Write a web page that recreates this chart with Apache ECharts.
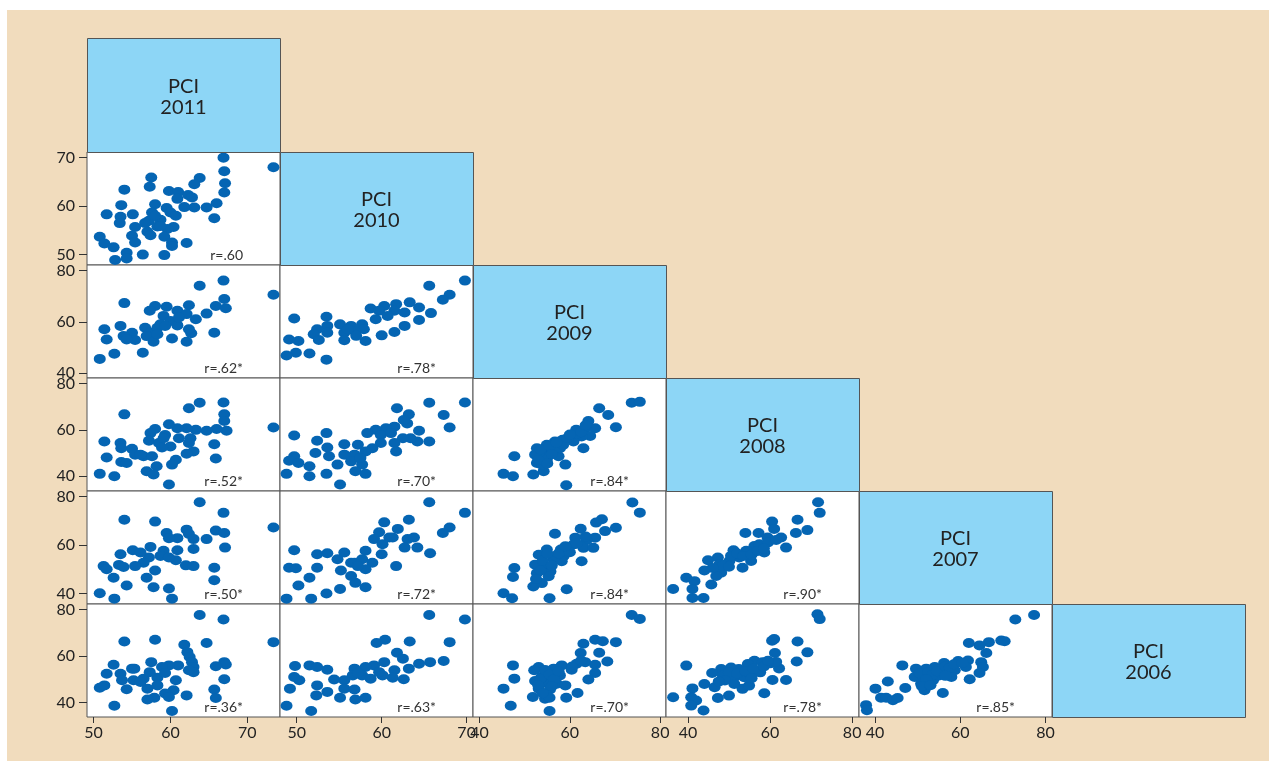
<!DOCTYPE html>
<html>
<head>
<meta charset="utf-8">
<script src="https://cdn.jsdelivr.net/npm/echarts@6/dist/echarts.min.js"></script>
<style>
html,body{margin:0;padding:0;background:#ffffff;}
#bg{position:absolute;left:7px;top:10px;width:1262px;height:751px;background:#f1dcbd;}
#chart{position:absolute;left:0;top:0;width:1276px;height:767px;}
</style>
</head>
<body>
<div id="bg"></div>
<div id="chart"></div>
<script>
// ---- variables (diagonal labels) ----
const variables = ['PCI\n2011', 'PCI\n2010', 'PCI\n2009', 'PCI\n2008', 'PCI\n2007', 'PCI\n2006'];

// ---- tick labels ----
const xTicksByCol = [[50, 60, 70], [50, 60, 70], [40, 60, 80], [40, 60, 80], [40, 60, 80]];
const yTicksByRow = [null, [50, 60, 70], [40, 60, 80], [40, 60, 80], [40, 60, 80], [40, 60, 80]];

// ---- correlation labels (row, col) ----
const rLabels = {
  '1-0': 'r=.60',
  '2-0': 'r=.62*', '2-1': 'r=.78*',
  '3-0': 'r=.52*', '3-1': 'r=.70*', '3-2': 'r=.84*',
  '4-0': 'r=.50*', '4-1': 'r=.72*', '4-2': 'r=.84*', '4-3': 'r=.90*',
  '5-0': 'r=.36*', '5-1': 'r=.63*', '5-2': 'r=.70*', '5-3': 'r=.78*', '5-4': 'r=.85*'
};

// ---- scatter data: [x, y] pairs, cell "rowcol" ----
const cell10 = [[66.9,70.0],[73.4,68.0],[67.0,67.2],[63.8,65.8],[57.5,65.9],[57.3,64.0],[54.0,63.4],[63.1,64.5],[67.1,64.7],[67.0,62.8],[59.8,63.1],[61.0,62.9],[62.3,62.3],[60.9,61.5],[62.8,61.8],[66.0,60.6],[64.7,59.7],[63.1,59.7],[61.8,59.8],[58.0,60.4],[53.6,60.2],[51.7,58.3],[55.1,58.3],[53.5,57.8],[53.4,56.5],[59.5,59.6],[60.0,58.7],[60.7,58.0],[57.6,58.7],[57.2,57.0],[58.7,57.2],[58.0,58.0],[65.7,57.5],[55.4,55.7],[60.4,55.7],[59.6,55.3],[58.3,55.8],[57.0,54.7],[57.4,54.0],[55.0,53.9],[50.8,53.7],[59.2,53.7],[55.4,52.5],[51.4,52.3],[52.6,51.5],[60.2,52.5],[60.2,51.8],[62.1,52.4],[54.3,50.4],[54.3,49.2],[52.8,48.9],[56.4,50.0],[59.2,49.9],[58.7,55.9],[56.7,56.5]];
const cell20 = [[66.9,76.1],[63.8,74.1],[73.4,70.6],[54.0,67.3],[67.0,68.9],[65.9,66.2],[67.2,65.3],[62.4,66.5],[59.5,65.9],[58.0,66.2],[57.3,64.3],[60.9,64.3],[62.1,63.0],[64.7,63.2],[63.3,61.0],[59.1,62.3],[60.0,60.3],[53.5,58.4],[51.4,57.1],[51.7,53.1],[55.0,55.7],[53.9,54.4],[55.4,52.9],[56.7,57.7],[57.4,55.7],[58.3,57.7],[58.7,59.0],[59.3,58.4],[60.9,58.6],[56.9,54.4],[57.8,52.2],[60.2,53.5],[62.1,52.2],[62.7,55.5],[62.4,57.1],[65.7,55.7],[56.4,47.9],[52.7,47.5],[50.8,45.5],[54.3,53.1],[58.3,55.1],[61.1,61.7]];
const cell21 = [[69.8,76.1],[65.6,74.1],[68.0,70.6],[67.2,68.6],[63.3,67.6],[64.4,65.6],[61.7,66.9],[60.3,66.2],[58.7,65.2],[59.7,64.3],[61.5,64.3],[62.7,63.6],[65.8,63.4],[64.4,60.7],[62.7,58.4],[61.5,56.0],[60.0,54.7],[59.3,61.0],[60.7,62.3],[49.7,61.3],[53.5,62.0],[53.6,58.4],[55.1,59.0],[56.4,58.4],[57.7,59.0],[57.9,57.1],[56.8,56.4],[55.6,55.7],[53.6,55.7],[52.4,57.1],[52.0,55.1],[52.6,52.9],[55.6,52.8],[58.1,52.5],[57.0,54.5],[49.1,53.1],[50.2,52.5],[49.9,47.9],[48.8,46.8],[51.5,47.6],[53.5,45.2],[56.0,57.1]];
const cell30 = [[66.9,71.8],[63.8,71.7],[62.4,69.3],[54.0,66.7],[67.0,66.7],[67.0,63.8],[73.4,61.0],[67.3,59.6],[66.0,60.4],[64.7,59.6],[63.3,60.0],[62.1,60.7],[60.9,60.7],[59.8,62.4],[58.0,60.4],[57.4,58.6],[59.3,57.8],[61.1,56.4],[62.6,56.4],[62.4,54.3],[63.0,50.7],[62.1,49.7],[65.7,53.8],[65.9,47.6],[51.4,55.0],[53.5,54.3],[53.6,52.1],[55.0,51.8],[57.2,55.3],[58.5,54.3],[60.0,52.8],[58.9,52.4],[55.4,49.3],[56.5,48.6],[57.6,48.6],[51.7,48.1],[53.6,46.1],[54.3,45.7],[60.7,47.1],[60.2,45.0],[58.2,44.3],[56.9,42.1],[57.8,40.7],[50.8,41.0],[52.7,40.0],[59.8,36.4],[56.1,49.3],[59.1,56.4]];
const cell31 = [[69.8,71.8],[65.6,71.7],[61.8,69.3],[67.3,66.4],[63.2,66.7],[68.0,61.0],[63.0,62.8],[62.6,64.3],[64.4,59.6],[65.6,55.0],[64.2,55.0],[63.4,56.4],[62.5,56.4],[61.5,61.4],[60.5,60.7],[59.3,60.0],[58.3,58.6],[59.9,57.8],[61.1,58.6],[59.9,54.3],[61.5,54.3],[61.7,50.7],[49.7,57.6],[53.5,58.6],[52.4,55.3],[53.6,52.4],[55.6,53.8],[57.2,53.6],[58.9,52.1],[58.1,50.7],[56.8,49.3],[55.6,49.3],[53.8,48.6],[52.2,50.0],[49.7,48.6],[49.1,46.7],[50.2,45.7],[51.5,44.3],[54.8,45.0],[56.4,46.4],[57.7,45.0],[56.9,42.1],[58.1,41.0],[53.5,41.0],[51.5,40.0],[48.8,41.0],[55.1,36.4],[57.5,47.9]];
const cell32 = [[73.7,71.7],[75.5,72.1],[66.5,69.3],[68.5,66.4],[70.2,61.1],[64.1,63.8],[65.6,60.7],[63.4,60.7],[61.4,60.0],[64.5,57.4],[62.6,57.1],[60.4,57.8],[58.4,55.7],[56.7,55.0],[54.9,53.6],[52.7,52.1],[54.5,50.0],[52.3,49.3],[52.7,45.7],[54.9,47.1],[57.5,48.6],[59.0,45.0],[54.2,42.1],[51.9,40.7],[47.7,48.6],[45.3,41.0],[47.4,40.0],[59.2,36.1],[63.0,52.1],[56.0,51.4],[57.8,52.1],[53.8,45.0],[60.8,55.0],[53.5,51.5],[55.5,53.0],[56.0,49.5],[58.5,53.5],[59.5,56.5],[61.5,58.5],[62.5,59.0],[53.0,47.0],[55.0,45.5],[57.0,54.5],[63.5,62.0],[60.0,58.0]];
const cell40 = [[63.8,77.6],[66.9,73.2],[54.0,70.4],[58.0,69.6],[73.4,67.2],[59.5,64.9],[62.1,66.3],[62.4,64.5],[65.9,65.9],[67.0,64.9],[64.7,62.4],[60.9,62.8],[59.8,62.8],[63.0,62.4],[63.0,58.3],[67.1,58.9],[57.4,59.2],[55.1,57.8],[53.5,56.2],[59.1,57.6],[60.9,57.8],[60.7,53.7],[58.7,55.5],[57.2,54.8],[56.5,52.7],[55.4,51.3],[53.3,51.8],[53.9,50.9],[51.3,51.3],[51.7,50.0],[58.0,49.5],[62.0,51.6],[63.0,51.3],[65.7,50.6],[65.7,45.5],[52.6,46.5],[56.9,46.5],[54.3,43.3],[57.8,42.6],[59.8,42.1],[50.8,40.1],[52.7,37.9],[60.2,37.9],[56.1,56.9],[59.8,54.8]];
const cell41 = [[65.6,77.6],[69.8,73.2],[60.3,69.3],[63.2,70.4],[68.0,67.2],[67.2,64.9],[61.9,66.6],[59.7,65.2],[59.1,62.4],[60.9,63.1],[63.05,62.4],[64.2,58.9],[65.7,56.6],[62.7,58.9],[61.3,63.1],[60.1,60.3],[60.0,56.2],[58.1,57.6],[56.4,52.7],[55.6,56.9],[53.6,56.6],[52.4,56.2],[49.7,57.8],[54.8,54.1],[56.8,52.7],[57.7,54.1],[58.9,52.7],[58.1,50.0],[55.2,49.5],[52.4,50.6],[49.1,50.6],[49.9,50.4],[51.5,46.5],[50.2,43.3],[53.5,40.0],[55.1,41.9],[56.9,44.4],[56.4,47.2],[58.1,42.6],[61.7,51.3],[48.8,37.9],[51.7,37.9],[63.8,63.1],[57.2,51.3]];
const cell42 = [[73.85,77.5],[75.5,73.3],[67.1,70.6],[65.8,69.2],[70.2,67.1],[67.8,65.7],[62.4,66.7],[56.7,64.6],[65.6,63.0],[63.7,61.9],[61.2,63.0],[60.8,60.2],[63.0,58.8],[65.2,58.8],[62.6,53.3],[58.0,58.1],[58.6,55.4],[54.9,58.1],[53.1,56.0],[56.4,54.0],[58.2,53.3],[52.3,51.9],[54.5,51.2],[55.7,49.1],[52.7,48.4],[47.7,50.5],[47.4,46.8],[51.9,42.9],[53.8,44.3],[59.3,41.8],[45.3,40.1],[47.2,38.1],[55.5,38.1],[55.3,47.1],[56.9,55.4],[54.0,53.5],[56.0,51.5],[53.5,49.5],[57.5,56.5],[60.0,57.0],[61.5,60.5],[52.5,46.0],[55.0,56.5],[63.5,63.5],[59.0,59.5]];
const cell43 = [[71.7,77.6],[72.1,73.2],[66.7,70.4],[60.5,69.6],[69.1,66.1],[66.3,64.9],[61.0,66.6],[57.2,64.9],[54.0,64.9],[62.7,63.1],[59.4,63.1],[63.9,58.9],[58.6,56.9],[56.2,59.6],[54.2,57.6],[51.1,57.8],[52.5,54.8],[50.1,53.4],[47.3,54.8],[44.9,53.7],[47.7,52.0],[44.0,49.5],[48.1,48.6],[45.7,43.7],[39.6,46.5],[36.4,41.9],[41.6,45.1],[41.1,41.9],[41.1,38.2],[43.8,38.2],[53.3,50.6],[55.4,53.4],[49.3,52.0],[57.4,60.3],[46.9,47.2],[50.5,55.5],[52.0,56.5],[53.5,55.5],[55.5,56.0],[57.0,57.5],[48.5,51.5],[50.0,51.0],[46.0,50.5],[59.5,61.0],[61.5,62.0],[58.5,58.5]];
const cell50 = [[63.8,77.7],[66.9,75.7],[54.0,66.3],[58.0,67.0],[64.7,65.6],[73.4,66.0],[61.8,64.9],[62.2,61.7],[62.5,59.6],[62.8,57.4],[63.0,55.3],[63.0,53.1],[62.4,53.9],[67.0,57.4],[67.2,56.4],[65.9,55.6],[67.0,50.0],[65.7,45.6],[65.9,42.0],[61.0,56.0],[59.8,56.0],[58.9,55.3],[57.5,57.4],[55.0,54.6],[55.3,54.6],[52.6,56.3],[51.7,52.4],[53.5,52.4],[53.7,49.6],[55.2,49.6],[56.5,50.3],[58.3,50.7],[57.3,53.1],[59.3,52.7],[60.7,49.6],[60.4,45.3],[59.3,43.9],[59.8,42.4],[57.9,42.1],[57.0,41.3],[62.1,43.1],[52.7,38.6],[60.2,36.4],[50.8,46.4],[51.4,47.4],[54.3,45.7],[57.0,46.0],[58.3,47.4],[56.1,48.9]];
const cell51 = [[65.6,77.7],[69.8,75.7],[68.0,66.0],[67.3,57.9],[65.7,57.4],[63.3,66.3],[60.4,67.0],[59.4,65.6],[61.8,61.4],[62.5,58.9],[64.4,56.7],[63.2,54.6],[62.6,50.0],[61.5,53.9],[61.3,50.7],[60.3,57.4],[60.1,51.7],[59.1,56.0],[58.1,55.3],[56.8,54.6],[56.6,51.7],[57.7,51.7],[58.7,50.3],[55.6,49.6],[54.4,49.9],[55.6,46.0],[56.8,45.6],[55.1,42.1],[56.9,41.3],[58.1,42.1],[53.6,44.6],[52.4,47.4],[52.3,43.1],[50.3,49.6],[49.7,51.0],[49.8,55.7],[51.5,56.0],[52.4,55.3],[53.6,54.1],[49.2,46.0],[48.8,38.6],[51.7,36.4],[57.2,52.7],[59.7,53.1]];
const cell52 = [[73.7,77.7],[75.5,76.0],[65.6,67.0],[67.3,66.4],[70.2,66.0],[63.0,65.3],[66.5,61.4],[62.4,61.3],[68.3,57.7],[65.6,56.3],[65.6,52.7],[64.1,49.9],[63.4,57.4],[61.5,56.7],[60.4,54.1],[58.2,56.0],[56.4,54.6],[53.1,55.3],[52.1,53.9],[54.5,52.4],[52.3,49.3],[54.9,48.4],[57.1,48.1],[59.0,47.4],[53.1,46.0],[55.6,45.6],[51.8,42.4],[54.5,41.7],[55.5,42.1],[59.2,42.1],[61.7,44.1],[47.4,56.0],[47.7,50.3],[45.3,46.0],[46.9,38.6],[55.5,36.4],[53.8,51.0],[57.8,51.7],[53.5,50.5],[54.5,54.0],[55.5,52.0],[56.5,50.0],[53.0,47.5],[56.0,47.0],[57.5,53.5],[54.0,44.0],[60.5,55.5],[62.5,58.0]];
const cell53 = [[71.55,78.0],[72.1,75.9],[60.5,66.6],[61.0,67.3],[66.7,66.3],[61.2,61.3],[69.1,61.6],[66.5,57.7],[56.2,58.0],[54.6,56.6],[58.2,57.3],[60.2,56.9],[62.2,54.7],[52.4,54.4],[50.5,55.1],[48.1,54.4],[45.9,52.7],[48.5,51.6],[51.3,50.9],[53.7,50.9],[55.4,52.3],[57.6,53.0],[44.0,48.0],[46.5,46.6],[53.3,45.9],[54.9,47.3],[60.6,49.7],[63.9,49.7],[58.6,44.0],[39.6,55.9],[41.1,46.1],[36.4,42.3],[40.8,42.3],[42.0,40.9],[40.8,38.7],[43.8,36.6],[47.3,42.0],[50.0,43.0],[51.3,48.0],[50.0,53.0],[52.0,52.5],[54.0,53.5],[56.0,54.5],[58.5,55.5],[49.0,49.5],[47.5,49.0],[55.5,50.5],[61.5,57.5],[59.5,58.0]];
const cell54 = [[77.3,77.7],[72.9,75.7],[69.6,66.7],[70.4,66.4],[66.7,66.0],[64.5,64.6],[62.0,65.6],[66.1,61.3],[64.9,57.4],[65.3,55.3],[61.8,58.1],[59.5,57.9],[56.2,57.0],[58.7,53.9],[62.2,50.0],[64.5,52.7],[55.9,54.6],[54.0,55.3],[52.0,54.6],[49.6,54.6],[46.4,56.0],[49.3,51.0],[51.6,51.0],[53.6,49.6],[50.8,48.1],[51.6,45.3],[43.0,49.1],[47.1,46.3],[40.1,46.0],[41.4,42.1],[42.6,42.1],[44.2,41.0],[45.3,42.0],[37.9,38.9],[38.1,36.7],[55.9,44.1],[57.9,51.0],[55.0,51.7],[61.3,55.3],[50.5,52.5],[52.5,53.0],[53.5,52.0],[52.0,50.0],[54.5,53.5],[56.5,55.5],[57.5,55.0],[58.5,56.5],[60.5,57.0],[51.0,47.0],[53.0,47.5],[56.5,51.5]];

const cellData = {
  '1-0': cell10,
  '2-0': cell20, '2-1': cell21,
  '3-0': cell30, '3-1': cell31, '3-2': cell32,
  '4-0': cell40, '4-1': cell41, '4-2': cell42, '4-3': cell43,
  '5-0': cell50, '5-1': cell51, '5-2': cell52, '5-3': cell53, '5-4': cell54
};

// ---- layout ----
const colX = [87, 280, 473, 666, 859, 1052, 1245];
const rowY = [38, 152, 265, 378, 491, 604, 717];
const xRangeByCol = [[49.14, 74.25], [48.03, 70.75], [38.54, 81.3], [34.66, 81.67], [36.24, 81.5]];
const yRangeByRow = [null, [47.86, 71.16], [38.03, 82.2], [33.6, 82.4], [35.7, 82.2], [33.8, 82.4]];

const FONT = 'Lato, "Open Sans", sans-serif';
const DOT = '#0565b3';

const grids = [], xAxes = [], yAxes = [], series = [], graphics = [];
let k = 0;
for (let r = 1; r <= 5; r++) {
  for (let c = 0; c < r; c++) {
    const key = r + '-' + c;
    grids.push({
      left: colX[c], top: rowY[r], width: colX[c + 1] - colX[c], height: rowY[r + 1] - rowY[r],
      show: true, backgroundColor: '#ffffff', borderColor: '#555555', borderWidth: 1
    });
    const bottom = (r === 5);
    const leftCol = (c === 0);
    xAxes.push({
      gridIndex: k, type: 'value', min: xRangeByCol[c][0], max: xRangeByCol[c][1],
      axisLine: { show: false }, splitLine: { show: false },
      axisTick: { show: bottom, length: 6, customValues: xTicksByCol[c], lineStyle: { color: '#333' } },
      axisLabel: { show: bottom, customValues: xTicksByCol[c], fontSize: 16, color: '#222', margin: 8, fontFamily: FONT }
    });
    yAxes.push({
      gridIndex: k, type: 'value', min: yRangeByRow[r][0], max: yRangeByRow[r][1],
      axisLine: { show: false }, splitLine: { show: false },
      axisTick: { show: leftCol, length: 8, customValues: yTicksByRow[r], lineStyle: { color: '#333' } },
      axisLabel: { show: leftCol, customValues: yTicksByRow[r], fontSize: 16, color: '#222', margin: 12, fontFamily: FONT }
    });
    series.push({
      type: 'scatter', xAxisIndex: k, yAxisIndex: k, data: cellData[key],
      symbol: 'circle', symbolSize: [12, 10], silent: true,
      itemStyle: { color: DOT, opacity: 1 }
    });
    graphics.push({
      type: 'text', x: colX[c + 1] - 37, y: rowY[r + 1] - 10, z: 100,
      style: { text: rLabels[key], fill: '#333', font: '14px ' + FONT, textAlign: 'right', textVerticalAlign: 'middle' }
    });
    k++;
  }
}
for (let d = 0; d < 6; d++) {
  graphics.push({
    type: 'rect', z: 50,
    shape: { x: colX[d] + 0.5, y: rowY[d] + 0.5, width: colX[d + 1] - colX[d], height: rowY[d + 1] - rowY[d] },
    style: { fill: '#8dd6f6', stroke: '#555555', lineWidth: 1 }
  });
  graphics.push({
    type: 'text', z: 60,
    x: (colX[d] + colX[d + 1]) / 2, y: (rowY[d] + rowY[d + 1]) / 2 + 2,
    style: { text: variables[d], fill: '#222', font: '20px ' + FONT, textAlign: 'center', textVerticalAlign: 'middle', lineHeight: 21 }
  });
}

const chart = echarts.init(document.getElementById('chart'), null, { renderer: 'canvas' });
chart.setOption({
  backgroundColor: 'transparent',
  animation: false,
  grid: grids, xAxis: xAxes, yAxis: yAxes, series: series,
  graphic: { elements: graphics }
});
</script>
</body>
</html>
